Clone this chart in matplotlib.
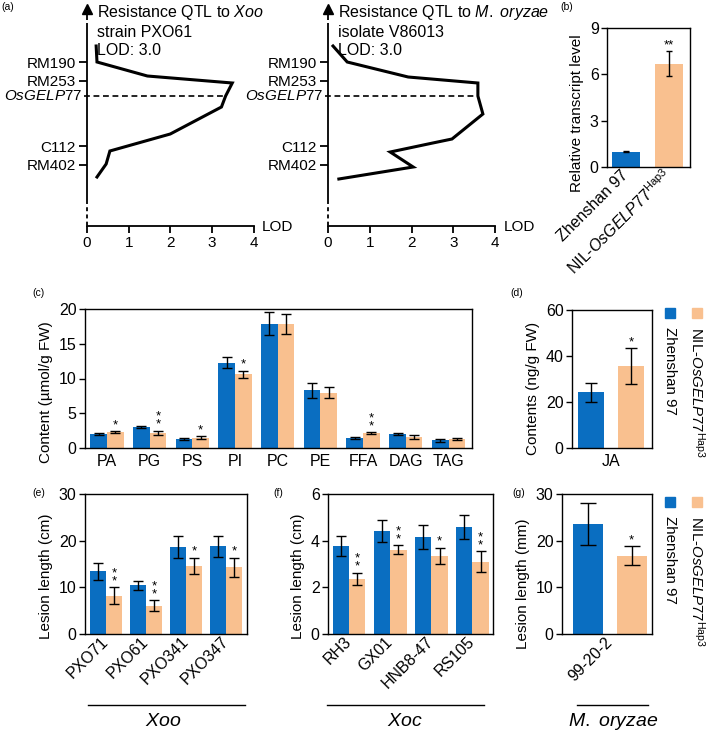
import numpy as np
import matplotlib
matplotlib.use("Agg")
import matplotlib.pyplot as plt
from matplotlib.lines import Line2D
from matplotlib.patches import Rectangle

plt.rcParams.update({
    "font.family": ["Liberation Sans", "DejaVu Sans"],
    "font.size": 11.5,
    "mathtext.fontset": "custom",
    "mathtext.rm": "Liberation Sans",
    "mathtext.it": "Liberation Sans:italic",
    "mathtext.bf": "Liberation Sans:bold",
    "axes.linewidth": 1.0,
    "xtick.labelsize": 11.5,
    "ytick.labelsize": 11.5,
    "axes.labelsize": 11,
})

BLUE = "#0a6ec1"
ORANGE = "#f9c08f"
NIL = r"NIL-$\mathit{OsGELP77}^{\mathrm{Hap3}}$"

# ---- (a) QTL LOD profiles (map position, top = 0) ----
marker_names = ["RM190", "RM253", "C112", "RM402"]
marker_pos = [62, 81, 146, 165]
gene_name = r"$\mathit{OsGELP77}$"
gene_pos = 96
xoo_qtl_pos = [46, 62, 76, 83, 96, 107, 134, 151, 164, 177]
xoo_qtl_lod = [0.22, 0.24, 1.45, 3.49, 3.33, 3.23, 2.0, 0.55, 0.46, 0.24]
mo_qtl_pos = [46, 62, 77, 83, 96, 114, 139, 143, 152, 167, 179]
mo_qtl_lod = [0.12, 0.46, 1.92, 3.59, 3.59, 3.71, 2.97, 2.51, 1.49, 2.04, 0.26]

# ---- (b) relative transcript level ----
transcript = [1.0, 6.7]
transcript_err = [0.04, 0.8]
transcript_sig = ["", "**"]

# ---- (c) lipid contents ----
lipid_classes = ["PA", "PG", "PS", "PI", "PC", "PE", "FFA", "DAG", "TAG"]
lipid_zs = [2.0, 3.0, 1.3, 12.3, 17.9, 8.3, 1.45, 1.95, 1.1]
lipid_zs_err = [0.1, 0.1, 0.08, 0.85, 1.65, 1.08, 0.1, 0.15, 0.25]
lipid_nil = [2.3, 2.2, 1.5, 10.6, 17.9, 7.95, 2.15, 1.55, 1.3]
lipid_nil_err = [0.12, 0.3, 0.2, 0.5, 1.45, 0.76, 0.15, 0.25, 0.1]
lipid_sig = ["*", "**", "*", "*", "", "", "**", "", ""]

# ---- (d) JA ----
ja = [24.3, 35.7]
ja_err = [4.1, 7.8]
ja_sig = ["", "*"]

# ---- (e) Xoo lesions ----
xoo_strains = ["PXO71", "PXO61", "PXO341", "PXO347"]
xoo_zs = [13.4, 10.4, 18.6, 18.8]
xoo_zs_err = [1.9, 1.05, 2.35, 2.2]
xoo_nil = [8.2, 6.1, 14.6, 14.3]
xoo_nil_err = [1.85, 1.1, 1.7, 2.05]
xoo_sig = ["**", "**", "*", "*"]

# ---- (f) Xoc lesions ----
xoc_strains = ["RH3", "GX01", "HNB8-47", "RS105"]
xoc_zs = [3.76, 4.43, 4.16, 4.59]
xoc_zs_err = [0.42, 0.47, 0.5, 0.52]
xoc_nil = [2.36, 3.61, 3.36, 3.09]
xoc_nil_err = [0.27, 0.2, 0.34, 0.45]
xoc_sig = ["**", "**", "*", "**"]

# ---- (g) M. oryzae lesions ----
mo = [23.6, 16.8]
mo_err = [4.5, 2.05]
mo_sig = ["", "*"]

W, H = 709, 732
fig = plt.figure(figsize=(W / 100, H / 100), dpi=100)


def add_ax(l, t, r, b):
    return fig.add_axes([l / W, 1 - b / H, (r - l) / W, (b - t) / H])


def ftext(x, y, s, **kw):
    fig.text(x / W, 1 - y / H, s, **kw)


def star(ax, x, y, s, stacked=True):
    if not s:
        return
    txt = "*\n*" if (len(s) == 2 and stacked) else s
    ax.annotate(txt, (x, y), xytext=(0, 0), textcoords="offset points",
                ha="center", va="bottom", fontsize=9.5, linespacing=0.55)


def style_box(ax, label, label_y):
    for sp in ax.spines.values():
        sp.set_linewidth(1.0)
    ax.tick_params(axis="y", direction="out", length=4, width=1.0, pad=2)
    ax.tick_params(axis="x", length=0, pad=4)
    ax.set_ylabel(label, labelpad=4)
    ax.yaxis.label.set_y(label_y)


def pair_panel(ax, vals, errs, sig, width, cap):
    x = np.arange(2)
    ax.bar(x, vals, width=width, color=[BLUE, ORANGE], zorder=2)
    ax.errorbar(x, vals, yerr=errs, fmt="none", ecolor="black",
                elinewidth=1.0, capsize=cap, capthick=1.0, zorder=3)
    for xi, v, e, s in zip(x, vals, errs, sig):
        star(ax, xi, v + e, s, stacked=False)


def group_panel(ax, cats, zs, zs_e, nil, nil_e, sig, width, cap):
    x = np.arange(len(cats))
    ax.bar(x - width / 2, zs, width=width, color=BLUE, zorder=2)
    ax.bar(x + width / 2, nil, width=width, color=ORANGE, zorder=2)
    ax.errorbar(x - width / 2, zs, yerr=zs_e, fmt="none", ecolor="black",
                elinewidth=1.0, capsize=cap, capthick=1.0, zorder=3)
    ax.errorbar(x + width / 2, nil, yerr=nil_e, fmt="none", ecolor="black",
                elinewidth=1.0, capsize=cap, capthick=1.0, zorder=3)
    for xi, v, e, s in zip(x + width / 2, nil, nil_e, sig):
        star(ax, xi, v + e, s)
    return x


def qtl_panel(ax, pos, lod, title):
    ax.set_xlim(0, 4)
    ax.set_ylim(226, 4)
    for side in ("top", "right", "left"):
        ax.spines[side].set_visible(False)
    ax.spines["bottom"].set_linewidth(1.3)
    ax.set_xticks(range(5))
    ax.tick_params(axis="x", direction="out", length=5, width=1.3, pad=2,
                   labelsize=11)
    ax.set_yticks(marker_pos)
    ax.set_yticklabels(marker_names)
    ax.tick_params(axis="y", direction="out", length=6, width=1.3, pad=2,
                   labelsize=11)
    ax.text(-0.12, gene_pos, gene_name, ha="right", va="center",
            fontsize=11, clip_on=False)
    kw = dict(color="black", lw=1.3, clip_on=False, solid_capstyle="butt")
    ax.plot([0, 0], [15, 20], **kw)
    ax.plot([0, 0], [23, 200], **kw)
    ax.plot([0, 0], [200, 226], linestyle=(0, (2.2, 1.8)), **kw)
    ax.plot([0], [9], marker="^", color="black", markersize=7, clip_on=False)
    ax.plot(lod, pos, color="black", lw=2.2, solid_joinstyle="miter")
    peak = np.interp(gene_pos, pos, lod)
    ax.plot([-0.08, peak], [gene_pos, gene_pos], color="black", lw=1.2,
            linestyle=(0, (3.5, 2.2)), clip_on=False)
    ax.text(4.2, 227, "LOD", ha="left", va="center", fontsize=11,
            clip_on=False)
    ax.text(0.24, 3, title, ha="left", va="top", fontsize=11.5,
            linespacing=1.26)


# (a)
ax_a1 = add_ax(87, 4, 253.5, 226)
qtl_panel(ax_a1, xoo_qtl_pos, xoo_qtl_lod,
          "Resistance QTL to $\\mathit{Xoo}$\nstrain PXO61\nLOD: 3.0")
ax_a2 = add_ax(328, 4, 495, 226)
qtl_panel(ax_a2, mo_qtl_pos, mo_qtl_lod,
          "Resistance QTL to $\\mathit{M.\\ oryzae}$\nisolate V86013\nLOD: 3.0")

# (b)
ax_b = add_ax(607, 28, 690, 167)
pair_panel(ax_b, transcript, transcript_err, transcript_sig, 0.67, 2.5)
style_box(ax_b, "Relative transcript level", 0.39)
ax_b.set_xlim(-0.44, 1.49)
ax_b.set_ylim(0, 9)
ax_b.set_yticks([0, 3, 6, 9])
ax_b.set_xticks([0, 1])
ax_b.set_xticklabels(["Zhenshan 97", NIL], rotation=45, ha="right",
                     va="center", rotation_mode="anchor")

# (c)
ax_c = add_ax(85, 309, 472, 448)
group_panel(ax_c, lipid_classes, lipid_zs, lipid_zs_err, lipid_nil,
            lipid_nil_err, lipid_sig, 0.39, 3.5)
style_box(ax_c, "Content (µmol/g FW)", 0.40)
ax_c.set_xlim(-0.515, 8.55)
ax_c.set_ylim(0, 20)
ax_c.set_yticks([0, 5, 10, 15, 20])
ax_c.set_xticks(np.arange(len(lipid_classes)))
ax_c.set_xticklabels(lipid_classes)

# (d)
ax_d = add_ax(572, 310, 652, 448)
pair_panel(ax_d, ja, ja_err, ja_sig, 0.65, 4)
style_box(ax_d, "Contents (ng/g FW)", 0.43)
ax_d.set_xlim(-0.475, 1.525)
ax_d.set_ylim(0, 60)
ax_d.set_yticks([0, 20, 40, 60])
ax_d.set_xticks([0.5])
ax_d.set_xticklabels(["JA"])

# (e)
ax_e = add_ax(85, 494, 247, 634)
xe = group_panel(ax_e, xoo_strains, xoo_zs, xoo_zs_err, xoo_nil,
                 xoo_nil_err, xoo_sig, 0.39, 3.5)
style_box(ax_e, "Lesion length (cm)", 0.41)
ax_e.set_xlim(-0.525, 3.525)
ax_e.set_ylim(0, 30)
ax_e.set_yticks([0, 10, 20, 30])
ax_e.set_xticks(xe)
ax_e.set_xticklabels(xoo_strains, rotation=45, ha="right", va="center",
                     rotation_mode="anchor")

# (f)
ax_f = add_ax(328, 494, 493, 634)
xf = group_panel(ax_f, xoc_strains, xoc_zs, xoc_zs_err, xoc_nil,
                 xoc_nil_err, xoc_sig, 0.40, 3.5)
style_box(ax_f, "Lesion length (cm)", 0.41)
ax_f.set_xlim(-0.51, 3.5)
ax_f.set_ylim(0, 6)
ax_f.set_yticks([0, 2, 4, 6])
ax_f.set_xticks(xf)
ax_f.set_xticklabels(xoc_strains, rotation=45, ha="right", va="center",
                     rotation_mode="anchor")

# (g)
ax_g = add_ax(562, 494, 652, 634)
pair_panel(ax_g, mo, mo_err, mo_sig, 0.69, 6)
style_box(ax_g, "Lesion length (mm)", 0.36)
ax_g.set_xlim(-0.6, 1.47)
ax_g.set_ylim(0, 30)
ax_g.set_yticks([0, 10, 20, 30])
ax_g.set_xticks([0.5])
ax_g.set_xticklabels(["99-20-2"], rotation=45, ha="right", va="center",
                     rotation_mode="anchor")

# group lines and pathogen names
for (x0, x1, xc, name) in [(88, 245, 163, r"$\mathit{Xoo}$"),
                           (327, 484, 405, r"$\mathit{Xoc}$"),
                           (577, 648, 613, r"$\mathit{M.\ oryzae}$")]:
    fig.add_artist(Line2D([x0 / W, x1 / W], [1 - 705 / H, 1 - 705 / H],
                          color="black", lw=1.0))
    ftext(xc, 721, name, ha="center", va="center", fontsize=14)

# vertical legends
for ytop in (308, 497):
    for xc, col, lab in [(670, BLUE, "Zhenshan 97"), (697, ORANGE, NIL)]:
        fig.add_artist(Rectangle(((xc - 5) / W, 1 - (ytop + 10) / H),
                                 10 / W, 10 / H, color=col,
                                 transform=fig.transFigure))
        ftext(xc, ytop + 19, lab, rotation=270, ha="center", va="top",
              fontsize=10.8)

# panel letters
for lab, x, y in [("(a)", 1, 7), ("(b)", 560, 7), ("(c)", 32, 293),
                  ("(d)", 510, 293), ("(e)", 32, 493), ("(f)", 273, 493),
                  ("(g)", 512, 493)]:
    ftext(x, y, lab, ha="left", va="center", fontsize=7.5)

fig.savefig("out.png", dpi=100)
